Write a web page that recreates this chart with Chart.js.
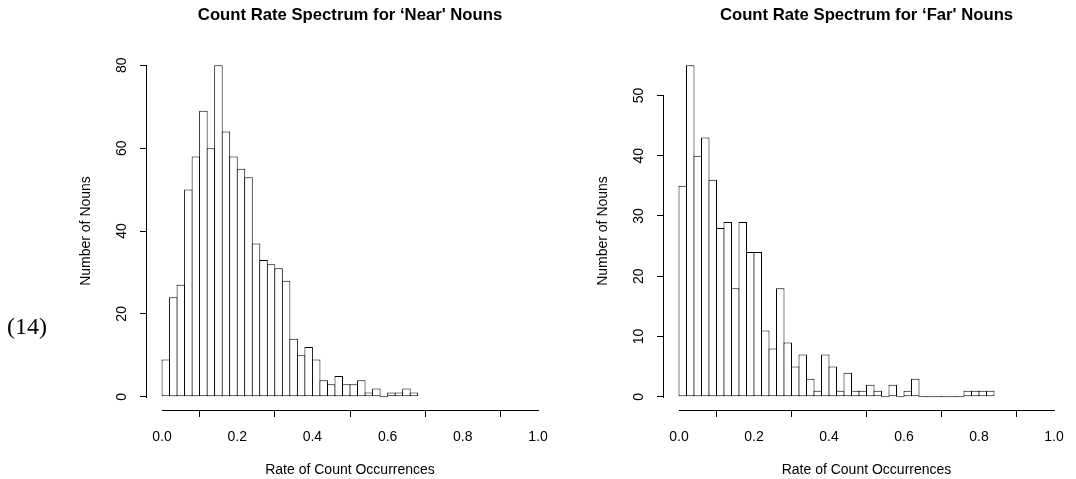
<!DOCTYPE html>
<html>
<head>
<meta charset="utf-8">
<script src="https://cdn.jsdelivr.net/npm/chart.js@4"></script>
<style>
  body { margin: 0; background: #fff; }
  #wrap { position: relative; width: 1076px; height: 479px; }
  canvas { position: absolute; top: 0; }
  #near { left: 0; }
  #far { left: 517px; }
  #num { position: absolute; left: 7px; top: 313px; font: 24px 'Liberation Serif', 'Times New Roman', serif; color: #000; }
</style>
</head>
<body>
<div id="wrap">
  <canvas id="near" width="560" height="479"></canvas>
  <canvas id="far" width="559" height="479"></canvas>
  <div id="num">(14)</div>
</div>
<script>
// bin midpoints (bins of width 0.02)
var binMids = [0.01, 0.03, 0.05, 0.07, 0.09, 0.11, 0.13, 0.15, 0.17, 0.19,
               0.21, 0.23, 0.25, 0.27, 0.29, 0.31, 0.33, 0.35, 0.37, 0.39,
               0.41, 0.43, 0.45, 0.47, 0.49, 0.51, 0.53, 0.55, 0.57, 0.59,
               0.61, 0.63, 0.65, 0.67, 0.69, 0.71, 0.73, 0.75, 0.77, 0.79,
               0.81, 0.83];
var nearCounts = [9, 24, 27, 50, 58, 69, 60, 80, 64, 58,
                  55, 53, 37, 33, 32, 31, 28, 14, 10, 12,
                  9, 4, 3, 5, 3, 3, 4, 1, 2, 0,
                  1, 1, 2, 1];
var farCounts = [35, 55, 40, 43, 36, 28, 29, 18, 29, 24,
                 24, 11, 8, 18, 9, 5, 7, 3, 1, 7,
                 5, 1, 4, 1, 1, 2, 1, 0, 2, 0,
                 1, 3, 0, 0, 0, 0, 0, 0, 1, 1,
                 1, 1];
var xTicks = [0, 0.2, 0.4, 0.6, 0.8, 1.0];
var nearYTicks = [0, 20, 40, 60, 80];
var farYTicks = [0, 10, 20, 30, 40, 50];

Chart.defaults.font.family = "'Liberation Sans', Arial, Helvetica, sans-serif";
Chart.defaults.color = '#000';

// R style axes: line only from first to last tick
var axisLines = {
  id: 'axisLines',
  afterDraw: function(chart) {
    var ctx = chart.ctx, a = chart.chartArea;
    var xs = chart.scales.x, ys = chart.scales.y;
    var xt = xs.ticks, yt = ys.ticks;
    ctx.save();
    ctx.strokeStyle = '#000';
    ctx.lineWidth = 1;
    ctx.beginPath();
    var by = Math.round(a.bottom) + 0.5;
    ctx.moveTo(Math.round(xs.getPixelForValue(xt[0].value)), by);
    ctx.lineTo(Math.round(xs.getPixelForValue(xt[xt.length - 1].value)) + 1, by);
    var lx = Math.round(a.left) - 0.5;
    ctx.moveTo(lx, Math.round(ys.getPixelForValue(yt[0].value)) + 1);
    ctx.lineTo(lx, Math.round(ys.getPixelForValue(yt[yt.length - 1].value)));
    ctx.stroke();
    ctx.restore();
  }
};

function histogram(id, title, counts, yTicks, yMax) {
  var pad = yMax * 0.04;
  new Chart(document.getElementById(id), {
    type: 'bar',
    data: {
      datasets: [{
        data: counts.map(function(c, i) { return { x: binMids[i], y: c }; }),
        backgroundColor: '#fff',
        borderColor: '#000',
        borderWidth: 1,
        borderSkipped: false,
        minBarLength: 1,
        barPercentage: 1.13,
        categoryPercentage: 1
      }]
    },
    options: {
      responsive: false,
      animation: false,
      events: [],
      layout: { padding: { left: 0, right: 2, top: 0, bottom: 0 } },
      plugins: {
        legend: { display: false },
        tooltip: { enabled: false },
        title: {
          display: true,
          text: title,
          fullSize: false,
          font: { size: 16.7, weight: 'bold' },
          padding: { top: 5.5, bottom: 26.46 }
        }
      },
      scales: {
        x: {
          type: 'linear',
          offset: false,
          min: -0.04,
          max: 1.04,
          afterBuildTicks: function(s) { s.ticks = xTicks.map(function(v) { return { value: v }; }); },
          afterFit: function(s) { s.height = 69; },
          border: { display: false },
          grid: { drawOnChartArea: false, drawTicks: true, tickLength: 7, color: '#000', lineWidth: 1 },
          ticks: {
            font: { size: 14 },
            padding: 12,
            maxRotation: 0,
            autoSkip: false,
            callback: function(v) { return Number(v).toFixed(1); }
          },
          title: {
            display: true,
            text: 'Rate of Count Occurrences',
            font: { size: 14 },
            padding: { top: 0, bottom: 0 }
          }
        },
        y: {
          type: 'linear',
          min: -pad,
          max: yMax + pad,
          afterBuildTicks: function(s) { s.ticks = yTicks.map(function(v) { return { value: v }; }); },
          afterFit: function(s) { s.width = 147; },
          border: { display: false },
          grid: { drawOnChartArea: false, drawTicks: true, tickLength: 7, color: '#000', lineWidth: 1 },
          ticks: {
            font: { size: 14 },
            padding: 10,
            minRotation: 90,
            maxRotation: 90,
            crossAlign: 'center',
            autoSkip: false
          },
          title: {
            display: true,
            text: 'Number of Nouns',
            font: { size: 14 },
            padding: { top: 77.6, bottom: 0 }
          }
        }
      }
    },
    plugins: [axisLines]
  });
}

histogram('near', 'Count Rate Spectrum for \u2018Near\' Nouns', nearCounts, nearYTicks, 80);
histogram('far', 'Count Rate Spectrum for \u2018Far\' Nouns', farCounts, farYTicks, 55);
</script>
</body>
</html>
